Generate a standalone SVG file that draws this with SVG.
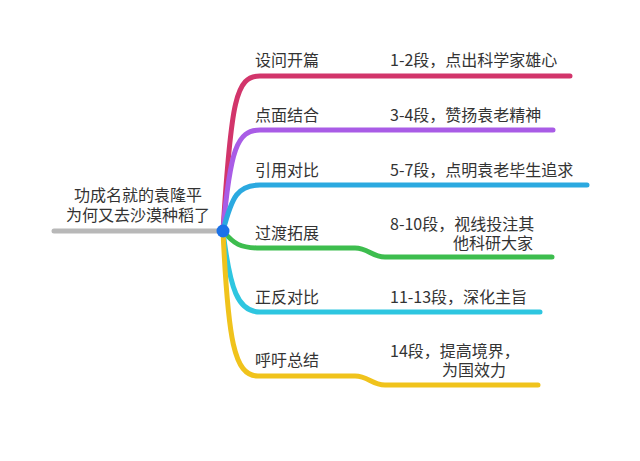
<svg xmlns="http://www.w3.org/2000/svg" width="640" height="461" viewBox="0 0 640 461">
<style>
.t{font-family:"Noto Sans CJK SC","Noto Sans",sans-serif;font-size:16px;fill:#333}
.ln{fill:none;stroke-width:5;stroke-linecap:round;stroke-linejoin:round}
</style>
<rect width="640" height="461" fill="#fff"/>
<g id="connectors">
<path class="ln" stroke="#b8b8b8" d="M54,231 H223"/>
<path class="ln" stroke="#d2356b" d="M223,231 C231,100 236,76 260,76 H570"/>
<path class="ln" stroke="#a95ce6" d="M223,231 C230,150 237,130 260,130 H553"/>
<path class="ln" stroke="#2ba9e0" d="M223,231 C232,196 238,185 260,185 H587"/>
<path class="ln" stroke="#3dbd4e" d="M223,231 C234,244 240,248 260,248 H355 C368,248 372,257 385,257 H552"/>
<path class="ln" stroke="#2ec6e0" d="M223,231 C230,290 238,312 260,312 H540"/>
<path class="ln" stroke="#f0c31c" d="M223,231 C228,340 234,376 258,376 H355 C368,376 372,385 385,385 H538"/>
</g>
<g id="root">
<circle cx="223" cy="231" r="6.5" fill="#1b72e8"/>
<text class="t" x="138" y="201" text-anchor="middle">功成名就的袁隆平</text>
<text class="t" x="138" y="221" text-anchor="middle">为何又去沙漠种稻了</text>
</g>
<g id="n1"><text class="t" x="255" y="66">设问开篇</text><text class="t" x="390" y="66">1-2段，点出科学家雄心</text></g>
<g id="n2"><text class="t" x="255" y="121">点面结合</text><text class="t" x="390" y="121">3-4段，赞扬袁老精神</text></g>
<g id="n3"><text class="t" x="255" y="176">引用对比</text><text class="t" x="390" y="176">5-7段，点明袁老毕生追求</text></g>
<g id="n4"><text class="t" x="255" y="239">过渡拓展</text><text class="t" x="390" y="230">8-10段，视线投注其</text><text class="t" x="533" y="249" text-anchor="end">他科研大家</text></g>
<g id="n5"><text class="t" x="255" y="303">正反对比</text><text class="t" x="390" y="303">11-13段，深化主旨</text></g>
<g id="n6"><text class="t" x="255" y="366">呼吁总结</text><text class="t" x="390" y="357">14段，提高境界，</text><text class="t" x="442" y="376">为国效力</text></g>
</svg>
